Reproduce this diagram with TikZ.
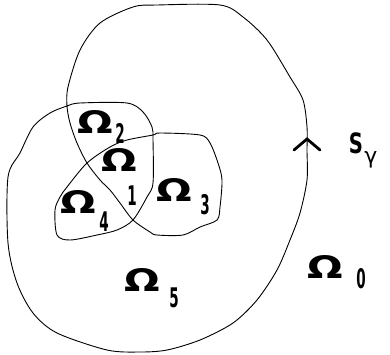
\documentclass[tikz,border=0pt]{standalone}
\usepackage{graphicx}
\usepackage{fontspec}
\setmainfont{DejaVu Sans}
\newcommand{\Om}{{\fontsize{31}{31}\selectfont\bfseries\scalebox{1.35}[1]{Ω}}}
\newcommand{\Dg}[1]{{\fontsize{27}{27}\selectfont\bfseries\scalebox{0.5}[1]{#1}}}
\tikzset{
  om/.style={inner sep=0pt, anchor=center},
  dg/.style={inner sep=0pt, anchor=center},
  curve/.style={line width=0.9pt, black, line join=round},
  chev/.style={line width=2.8pt, black, line cap=round, line join=miter}
}
\begin{document}
\begin{tikzpicture}[x=1pt,y=-1pt]
\useasboundingbox (0,0) rectangle (390,354);
\fill[white] (0,0) rectangle (390,354);
\draw[curve] plot[smooth cycle, tension=0.5] coordinates {
(157,5) (220,5) (243,17) (267,40) (290,77) (303,100) (307,127) (307,150)
(307,180) (300,213) (290,240) (277,270) (257,300) (233,323) (200,340)
(167,350) (140,352) (107,350) (57,333) (33,313) (17,283) (8,243) (8,177)
(20,153) (33,127) (50,113) (67,106) (80,103) (127,103) (143,112) (152,127)
(153,140) (153,183) (147,197) (133,220) (117,230) (97,235) (70,240) (57,235)
(55,210) (60,197) (67,187) (87,163) (110,147) (127,140) (153,135) (160,133)
(200,135) (210,143) (218,163) (222,180) (220,207) (217,220) (200,227)
(183,235) (157,235) (150,232) (133,220) (120,203) (110,190) (100,180)
(87,163) (77,143) (70,123) (67,106) (68,87) (80,50) (100,23) (133,7)};
\coordinate (cl) at (294,150);
\coordinate (ct) at (307,139);
\coordinate (cr) at (320,150);
\draw[chev] (cl) -- (ct) -- (cr);
\node[om] (o2) at (95,122) {\Om};
\node[dg] (d2) at (120,133) {\Dg{2}};
\node[om] (o1) at (119,160) {\Om};
\node[dg] (d1) at (132,196) {\Dg{1}};
\node[om] (o3) at (174,190) {\Om};
\node[dg] (d3) at (205,205) {\Dg{3}};
\node[om] (o4) at (78,202) {\Om};
\node[dg] (d4) at (104,222) {\Dg{4}};
\node[om] (o5) at (142,280) {\Om};
\node[dg] (d5) at (174,298) {\Dg{5}};
\node[om] (o0) at (325,267) {\Om};
\node[dg] (d0) at (361,279) {\Dg{0}};
\node[dg] (s) at (356,143) {\fontsize{28}{28}\selectfont\bfseries\scalebox{0.7}[1]{S}};
\node[dg] (g) at (371,160) {\fontsize{22}{22}\selectfont γ};
\end{tikzpicture}
\end{document}
